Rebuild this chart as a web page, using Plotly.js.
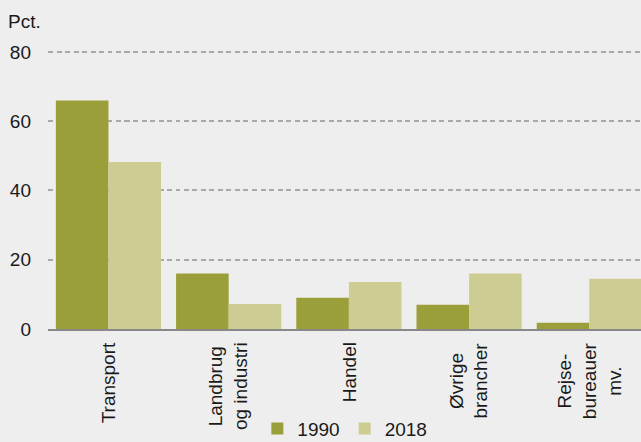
<!DOCTYPE html>
<html>
<head>
<meta charset="utf-8">
<script src="https://cdn.plot.ly/plotly-3.0.1.min.js"></script>
<style>
  html, body { margin: 0; padding: 0; background: #eeeeee; }
  #chart { width: 641px; height: 442px; }
</style>
</head>
<body>
<div id="chart"></div>
<script>
//category labels and values
var categories = ['Transport', 'Landbrug<br>og industri', 'Handel', 'Øvrige<br>brancher', 'Rejse-<br>bureauer<br>mv.'];
var values1990 = [66, 16, 9, 7, 1.8];
var values2018 = [48.2, 7.2, 13.6, 16, 14.5];
var yticks = [0, 20, 40, 60, 80];

var font = {family: '"Liberation Sans", Arial, sans-serif', size: 19, color: '#1a1a1a'};

var bars = [
  {
    //1990 bars
    x: categories,
    y: values1990,
    type: 'bar',
    name: '1990',
    marker: {color: '#9b9f3a', line: {width: 0}},
    hoverinfo: 'skip'
  },{
    //2018 bars
    x: categories,
    y: values2018,
    type: 'bar',
    name: '2018',
    marker: {color: '#cdcc92', line: {width: 0}},
    hoverinfo: 'skip'
  }];

//rotated category labels, lines centred on each other
var labels = categories.map(function(c) {
  return {
    x: c,
    xref: 'x',
    y: -0.044,
    yref: 'paper',
    yanchor: 'top',
    xanchor: 'center',
    text: c,
    textangle: -90,
    align: 'center',
    showarrow: false,
    font: font,
    borderpad: 0
  };
});

var layout = {
  width: 641,
  height: 442,
  paper_bgcolor: '#eeeeee',
  plot_bgcolor: '#eeeeee',
  font: font,
  margin: {l: 48, r: 0, t: 48, b: 113},
  barmode: 'group',
  bargap: 0.125,
  bargroupgap: 0,
  title: {
    text: 'Pct.',
    font: font,
    x: 0.0125,
    xanchor: 'left',
    y: 0.952,
    yanchor: 'middle'
  },
  xaxis: {
    type: 'category',
    range: [-0.503, 4.43],
    showticklabels: false,
    ticks: '',
    showgrid: false,
    showline: true,
    linecolor: '#888888',
    linewidth: 2,
    zeroline: false,
    fixedrange: true
  },
  yaxis: {
    range: [0, 81.15],
    tickvals: yticks,
    ticks: '',
    ticklabelstandoff: 16,
    showgrid: true,
    gridcolor: '#a9a9a9',
    gridwidth: 2,
    griddash: '5px,3.5px',
    zeroline: false,
    showline: false,
    fixedrange: true
  },
  annotations: labels,
  showlegend: true,
  legend: {
    orientation: 'h',
    xref: 'container',
    yref: 'container',
    x: 0.538,
    xanchor: 'center',
    y: 0.03,
    yanchor: 'middle',
    bgcolor: 'rgba(0,0,0,0)',
    font: font,
    itemwidth: 30
  }
};

Plotly.newPlot('chart', bars, layout, {displayModeBar: false, staticPlot: true});
</script>
</body>
</html>
